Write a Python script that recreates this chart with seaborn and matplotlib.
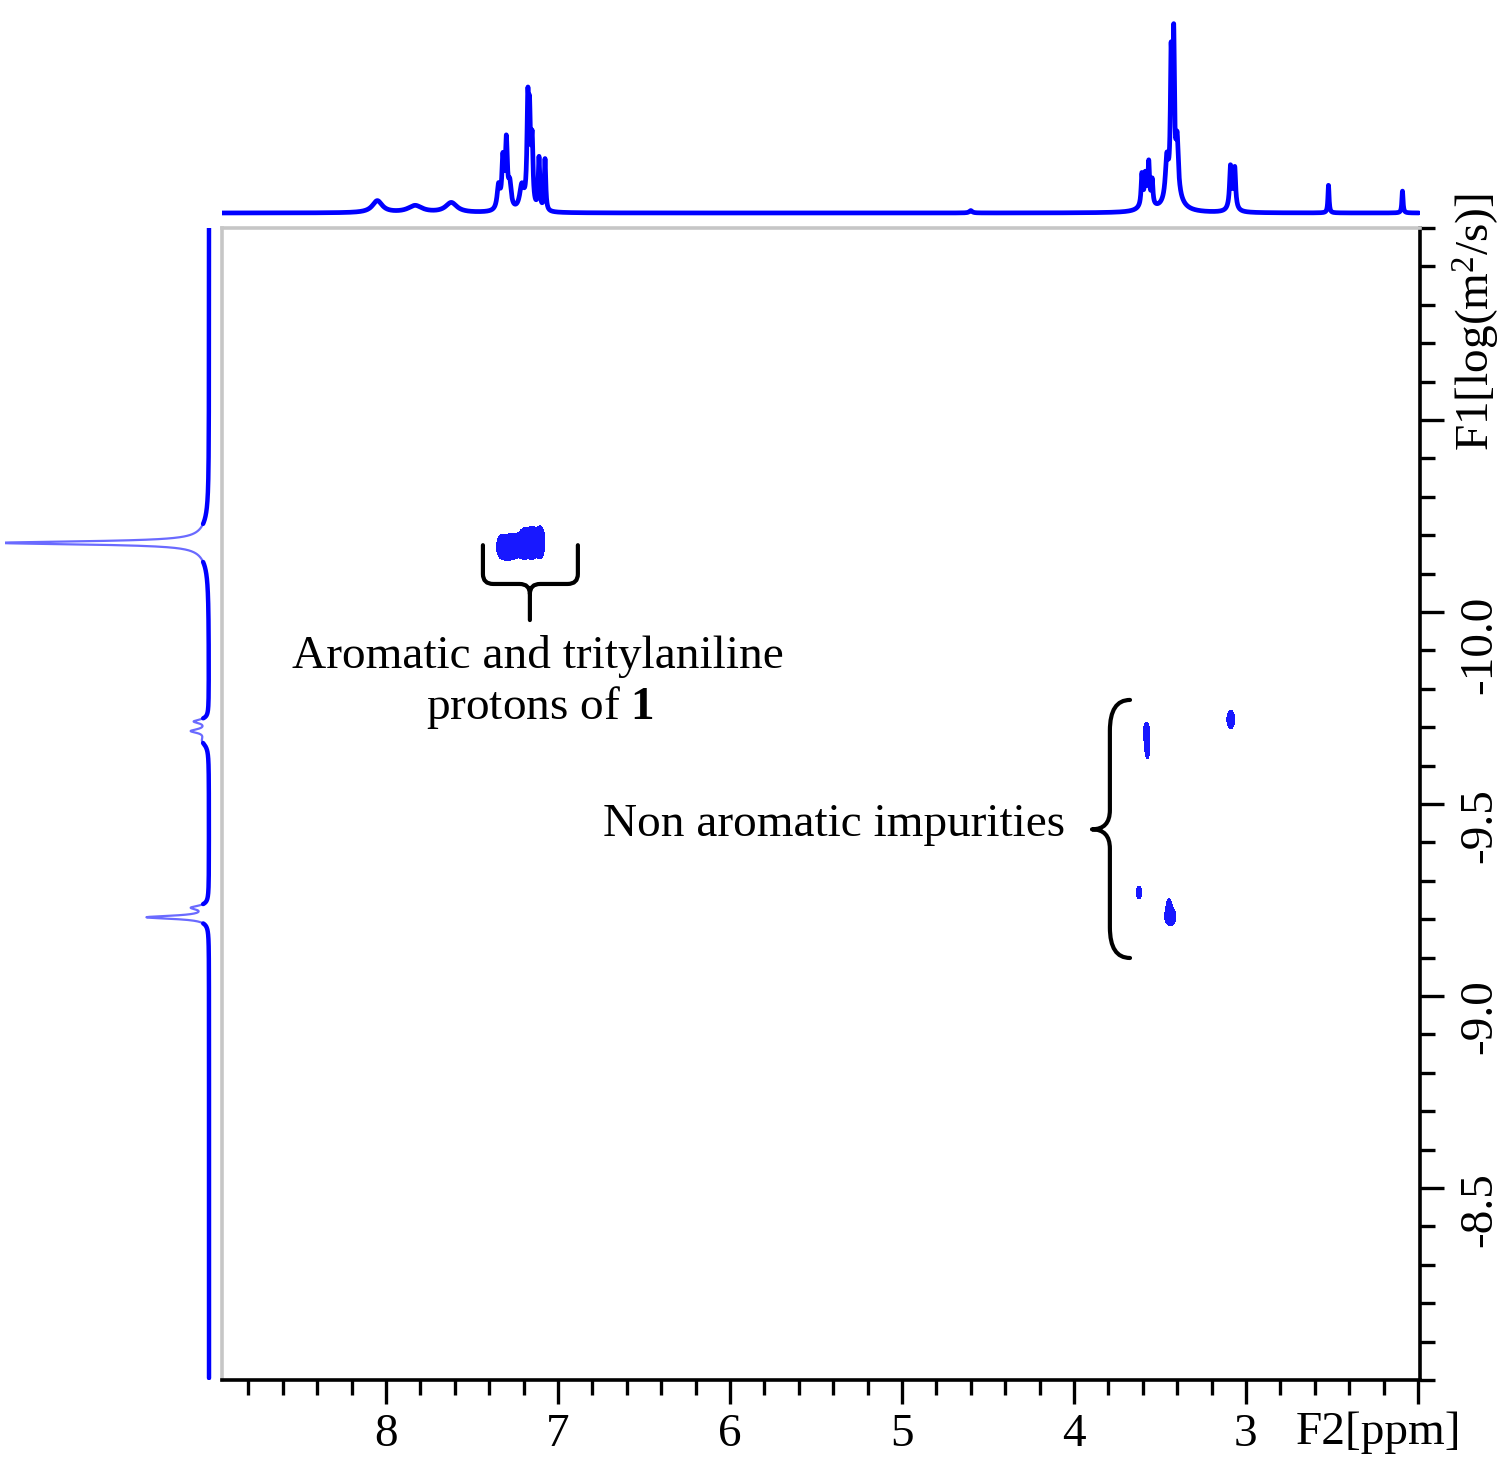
import numpy as np
import pandas as pd
import matplotlib
matplotlib.use("Agg")
import matplotlib.pyplot as plt
import seaborn as sns
from matplotlib.path import Path
from matplotlib.patches import PathPatch
from matplotlib.ticker import FixedLocator, MultipleLocator

# ---------------- data ----------------
# 1D 1H spectrum (top trace): peak positions (ppm), relative heights, half-widths (ppm)
h1_ppm = [8.05, 7.83, 7.62, 7.345, 7.32, 7.30, 7.28, 7.21, 7.175, 7.165, 7.15, 7.11, 7.075,
          4.60, 3.605, 3.585, 3.565, 3.545, 3.58, 3.46, 3.435, 3.42, 3.40, 3.42,
          3.09, 3.065, 3.08, 2.52, 2.09]
h1_height = [0.06, 0.035, 0.05, 0.12, 0.24, 0.33, 0.12, 0.12, 0.48, 0.40, 0.32, 0.26, 0.26,
             0.012, 0.15, 0.12, 0.19, 0.12, 0.06, 0.20, 0.64, 0.72, 0.25, 0.12,
             0.19, 0.19, 0.05, 0.14, 0.11]
h1_width = [0.035, 0.05, 0.04, 0.01, 0.007, 0.007, 0.01, 0.015, 0.006, 0.006, 0.006, 0.005, 0.005,
            0.01, 0.005, 0.005, 0.005, 0.005, 0.03, 0.01, 0.005, 0.005, 0.008, 0.04,
            0.006, 0.006, 0.02, 0.004, 0.004]

# DOSY projection (left trace): log D positions, relative heights, half-widths
proj_logd = [-10.18, -10.18, -9.715, -9.69, -9.665, -9.23, -9.205]
proj_height = [1.0, 0.05, 0.07, 0.08, 0.03, 0.08, 0.31]
proj_width = [0.005, 0.04, 0.006, 0.006, 0.015, 0.006, 0.005]

# DOSY cross peaks: F2 (ppm), F1 (log D), spreads
cross_ppm = [7.33, 7.29, 7.25, 7.20, 7.15, 7.10,
             3.578, 3.573, 3.088, 3.622, 3.447, 3.440]
cross_logd = [-10.170, -10.168, -10.172, -10.178, -10.180, -10.182,
              -9.685, -9.640, -9.72, -9.27, -9.235, -9.207]
cross_sx = [0.022, 0.022, 0.022, 0.022, 0.022, 0.020,
            0.015, 0.010, 0.019, 0.013, 0.010, 0.028]
cross_sy = [0.024, 0.024, 0.024, 0.032, 0.034, 0.034,
            0.024, 0.018, 0.020, 0.014, 0.014, 0.020]

x_major = [8, 7, 6, 5, 4, 3, 2]
x_major_labels = ["8", "7", "6", "5", "4", "3", ""]
y_major = [-10.5, -10.0, -9.5, -9.0, -8.5]
y_major_labels = ["", "-10.0", "-9.5", "-9.0", "-8.5"]

# ---------------- style ----------------
sns.set_theme(style="white")
plt.rcParams["font.family"] = ["Liberation Serif", "DejaVu Serif"]
plt.rcParams["mathtext.fontset"] = "custom"
plt.rcParams["mathtext.rm"] = "Liberation Serif"
plt.rcParams["mathtext.it"] = "Liberation Serif:italic"
plt.rcParams["mathtext.bf"] = "Liberation Serif:bold"
for k in ("text.color", "axes.labelcolor", "xtick.color", "ytick.color"):
    plt.rcParams[k] = "black"

BLUE = "#0000ff"
W, H = 1500, 1460
fig = plt.figure(figsize=(W / 100, H / 100), dpi=100)
fig.patch.set_facecolor("white")

ML, MR, MT, MB = 222, 1420, 228, 1380
ax = fig.add_axes([ML / W, 1 - MB / H, (MR - ML) / W, (MB - MT) / H])
ax_top = fig.add_axes([ML / W, 1 - 216 / H, (MR - ML) / W, 206 / H], sharex=ax)
ax_left = fig.add_axes([5 / W, 1 - MB / H, 208 / W, (MB - MT) / H], sharey=ax)

XMIN, XMAX = 8.953, 1.988
ax.set_xlim(XMIN, XMAX)
ax.set_ylim(-8.0, -11.0)

# ---------------- top 1D spectrum ----------------
ppm_grid = np.linspace(XMIN, 1.995, 8000)
spec = np.zeros_like(ppm_grid)
for p, h, w in zip(h1_ppm, h1_height, h1_width):
    spec += h / (1 + ((ppm_grid - p) / w) ** 2)
df_top = pd.DataFrame({"ppm": ppm_grid, "I": spec})
sns.lineplot(data=df_top, x="ppm", y="I", ax=ax_top, color=BLUE, lw=3.4,
             sort=False, estimator=None)
ax_top.set_ylim(-0.015, 1.02)

# ---------------- left projection ----------------
logd_grid = np.linspace(-11.0, -8.005, 8000)
proj = np.zeros_like(logd_grid)
for c, h, w in zip(proj_logd, proj_height, proj_width):
    proj += h / (1 + ((logd_grid - c) / w) ** 2)
df_left = pd.DataFrame({"logD": logd_grid, "I": proj})
sns.lineplot(data=df_left, x="I", y="logD", ax=ax_left, color="#6a6aff", lw=1.6,
             sort=False, estimator=None, orient="y")
mask = proj < 0.03
seg = np.cumsum(np.r_[True, mask[1:] != mask[:-1]])
df_base = df_left.assign(seg=seg)[mask]
sns.lineplot(data=df_base, x="I", y="logD", units="seg", ax=ax_left, color=BLUE, lw=3.2,
             sort=False, estimator=None, orient="y")
ax_left.set_xlim(1.025, -0.02)

# ---------------- DOSY cross peaks ----------------
gx = np.linspace(XMIN, XMAX, 1400)
gy = np.linspace(-11.0, -8.0, 1400)
GX, GY = np.meshgrid(gx, gy)
Z = np.zeros_like(GX)
for p, d, sx, sy in zip(cross_ppm, cross_logd, cross_sx, cross_sy):
    Z += np.exp(-0.5 * (((GX - p) / sx) ** 2 + ((GY - d) / sy) ** 2))
ax.contourf(GX, GY, Z, levels=[0.5, 100], colors=["#1818ff"])

for a in (ax_top, ax_left):
    a.set_axis_off()
    a.set_xlabel("")
    a.set_ylabel("")

# ---------------- main axes styling ----------------
for side in ("left", "top"):
    ax.spines[side].set_color("#c6c6c6")
    ax.spines[side].set_linewidth(2.6)
for side in ("right", "bottom"):
    ax.spines[side].set_color("black")
    ax.spines[side].set_linewidth(2.6)
for side in ax.spines:
    ax.spines[side].set_visible(True)

ax.xaxis.set_major_locator(FixedLocator(x_major))
ax.set_xticklabels(x_major_labels)
ax.xaxis.set_minor_locator(MultipleLocator(0.2))
ax.yaxis.tick_right()
ax.yaxis.set_major_locator(FixedLocator(y_major))
ax.set_yticklabels(y_major_labels)
ax.yaxis.set_minor_locator(MultipleLocator(0.1))
ax.tick_params(axis="both", which="major", direction="out", length=17, width=2.4,
               color="black", labelcolor="black", labelsize=34, pad=7)
ax.tick_params(axis="both", which="minor", direction="out", length=11, width=2.4,
               color="black")
ax.tick_params(axis="x", which="both", bottom=True, top=False)
ax.tick_params(axis="y", which="both", right=True, left=False, labelright=True,
               labelleft=False, labelrotation=90, pad=11)
ax.set_xlabel("")
ax.set_ylabel("")
ax.grid(False)

ax.text(0.965, -0.027, "F2[ppm]", transform=ax.transAxes, ha="center", va="top",
        fontsize=34, color="black")
ax.text(1.047, 0.918, r"F1[log(m$^2$/s)]", transform=ax.transAxes, ha="center",
        va="center", rotation=90, fontsize=34, color="black")

# ---------------- annotations ----------------
ax.text(7.116, -9.883, "Aromatic and tritylaniline", ha="center", va="center",
        fontsize=34, color="black")
ax.text(7.105, -9.752, r"protons of $\mathbf{1}$", ha="center", va="center",
        fontsize=34, color="black")
ax.text(5.395, -9.447, "Non aromatic impurities", ha="center", va="center",
        fontsize=34, color="black")

# horizontal brace (under aromatic cluster)
xl, xr, xc = 7.436, 6.884, 7.163
ytop, ybar, ytip = -10.174, -10.073, -9.979
rx, ry = 0.06, 0.026
verts = [(xl, ytop), (xl, ybar - ry), (xl, ybar), (xl - rx, ybar), (xc + rx, ybar),
         (xc, ybar), (xc, ybar + ry), (xc, ytip),
         (xr, ytop), (xr, ybar - ry), (xr, ybar), (xr + rx, ybar), (xc - rx, ybar),
         (xc, ybar), (xc, ybar + ry)]
codes = [Path.MOVETO, Path.LINETO, Path.CURVE3, Path.CURVE3, Path.LINETO,
         Path.CURVE3, Path.CURVE3, Path.LINETO,
         Path.MOVETO, Path.LINETO, Path.CURVE3, Path.CURVE3, Path.LINETO,
         Path.CURVE3, Path.CURVE3]
ax.add_patch(PathPatch(Path(verts, codes), fill=False, lw=3.0, color="black",
                       capstyle="round", joinstyle="round"))

# vertical curly brace (impurities)
xe, xs, xt = 3.674, 3.791, 3.895
vt, vm, vb = -9.771, -9.434, -9.099
r2, r3 = 0.08, 0.05
verts = [(xe, vt), (xs, vt), (xs, vt + r2), (xs, vm - r3), (xs, vm), (xt, vm),
         (xs, vm), (xs, vm + r3), (xs, vb - r2), (xs, vb), (xe, vb)]
codes = [Path.MOVETO, Path.CURVE3, Path.CURVE3, Path.LINETO, Path.CURVE3, Path.CURVE3,
         Path.CURVE3, Path.CURVE3, Path.LINETO, Path.CURVE3, Path.CURVE3]
ax.add_patch(PathPatch(Path(verts, codes), fill=False, lw=3.0, color="black",
                       capstyle="round", joinstyle="round"))

fig.savefig("out.png", dpi=100, facecolor="white")
